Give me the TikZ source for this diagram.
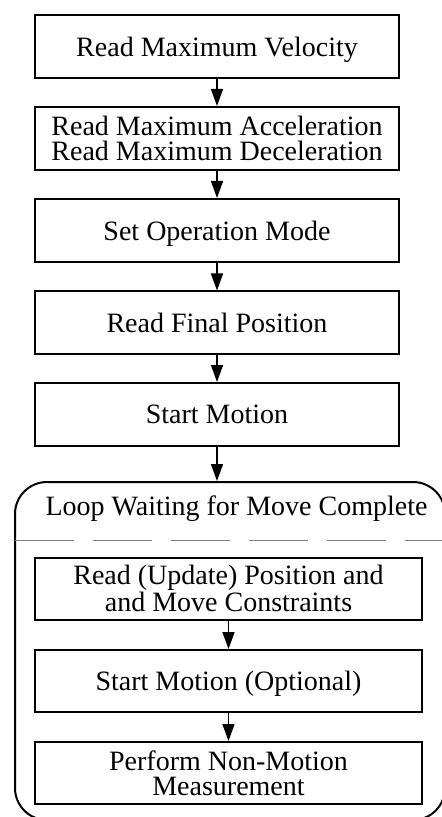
\documentclass[tikz,border=0pt]{standalone}
\usepackage{fontspec}
\setmainfont{Liberation Serif}
\usetikzlibrary{arrows.meta}

\begin{document}
\begin{tikzpicture}[x=0.5pt,y=-0.5pt,
    stepbox/.style={draw,line width=1pt,minimum width=182pt,minimum height=31.5pt,
      inner sep=0pt,align=center,text depth=0pt,font=\fontsize{14}{12.5}\selectfont},
    loopstep/.style={stepbox,minimum width=193.5pt,minimum height=31pt,
      font=\fontsize{14}{11.5}\selectfont},
    flow/.style={-{Triangle[length=8.5pt,width=6pt]},line width=0.75pt}]
  \useasboundingbox (0,0) rectangle (442,817);
  % main sequence
  \node[stepbox] (vel) at (217,46.5) {Read Maximum Velocity};
  \node[stepbox] (acc) at (217,138.5) {Read Maximum Acceleration\\Read Maximum Deceleration};
  \node[stepbox] (mode) at (217,230.5) {Set Operation Mode};
  \node[stepbox] (fin) at (217,323) {Read Final Position};
  \node[stepbox] (start) at (217,414.5) {Start Motion};
  % waiting loop
  \node[draw,line width=1pt,rounded corners=16pt,minimum width=215pt,minimum height=169pt] (loop) at (230,651) {};
  \node[anchor=base,font=\fontsize{14}{12.5}\selectfont] (title) at (236.5,515) {Loop Waiting for Move Complete};
  \coordinate (sepl) at (15,540);
  \coordinate (sepr) at (442,540);
  \draw[gray,line width=0.5pt,dash pattern=on 29.5pt off 9.5pt] (sepl) -- (sepr);
  \node[loopstep] (upd) at (228.5,588.5) {Read (Update) Position and\\and Move Constraints};
  \node[loopstep] (opt) at (228.5,681) {Start Motion (Optional)};
  \node[loopstep,font=\fontsize{14}{12.5}\selectfont] (meas) at (228.5,773) {Perform Non-Motion\\Measurement};
  % arrows
  \draw[flow] (vel) -- (acc);
  \draw[flow] (acc) -- (mode);
  \draw[flow] (mode) -- (fin);
  \draw[flow] (fin) -- (start);
  \draw[flow] (start) -- (start |- loop.north);
  \draw[flow] (upd) -- (opt);
  \draw[flow] (opt) -- (meas);
\end{tikzpicture}
\end{document}
